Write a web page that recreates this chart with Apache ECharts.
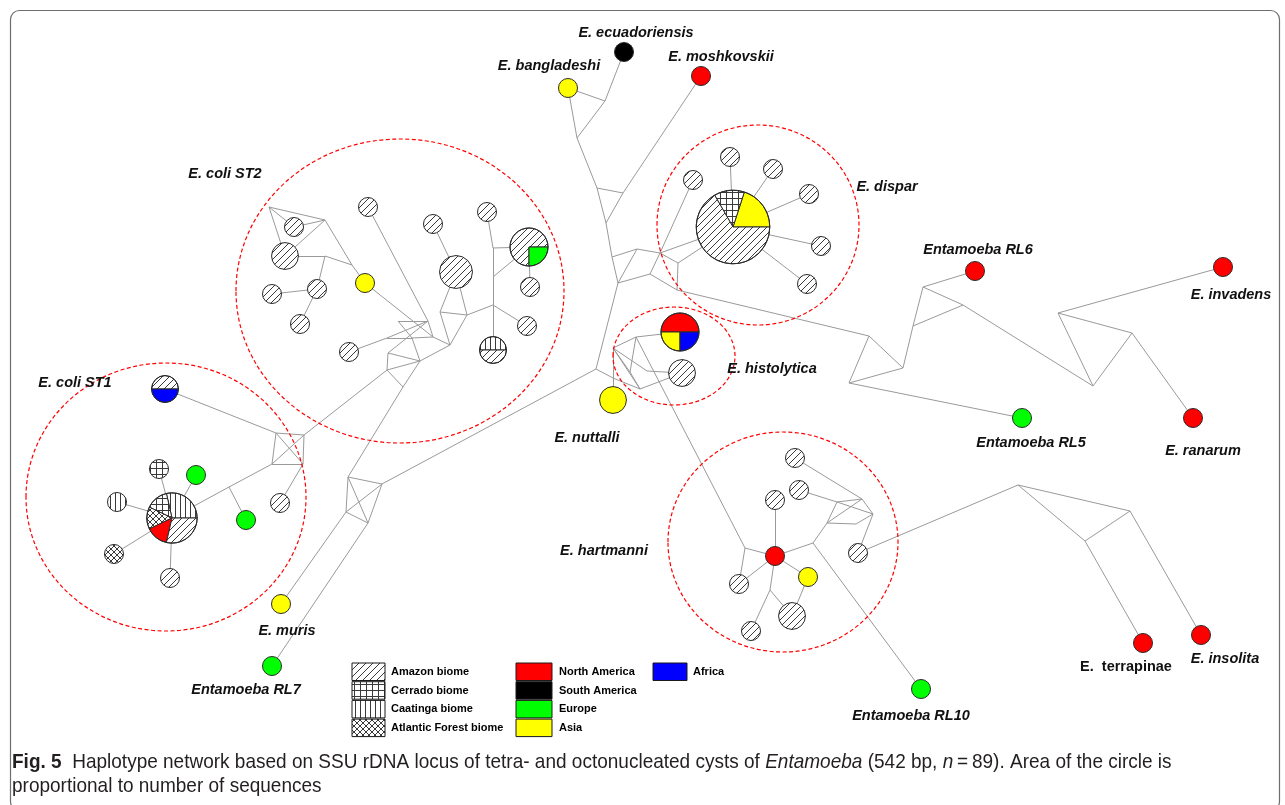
<!DOCTYPE html>
<html>
<head>
<meta charset="utf-8">
<script src="https://cdn.jsdelivr.net/npm/echarts@6/dist/echarts.min.js"></script>
<style>
html,body{margin:0;padding:0;background:#fff;}
#main{width:1285px;height:805px;}
</style>
</head>
<body>
<div id="main"></div>
<script>
// ---- Haplotype categories (biomes are hatched, continents are solid) ----
const biomeCategories = ['Amazon biome', 'Cerrado biome', 'Caatinga biome', 'Atlantic Forest biome'];
const regionCategories = ['North America', 'South America', 'Europe', 'Asia'];
const extraCategories = ['Africa'];

// ---- Haplotypes: id, x, y, sequences per category (drawn counter-clockwise from 3 o'clock) ----
const haplotypes = [
  // E. coli ST1
  ['st1a', 165, 389, [['Amazon biome', 1], ['Africa', 1]]],
  ['st1b', 172, 518, [['Caatinga biome', 2], ['Cerrado biome', 1], ['Atlantic Forest biome', 1], ['North America', 1], ['Amazon biome', 2]]],
  ['st1c', 159, 469, [['Cerrado biome', 1]]],
  ['st1d', 196, 475, [['Europe', 1]]],
  ['st1e', 117, 502, [['Caatinga biome', 1]]],
  ['st1f', 246, 520, [['Europe', 1]]],
  ['st1g', 114, 554, [['Atlantic Forest biome', 1]]],
  ['st1h', 170, 578, [['Amazon biome', 1]]],
  ['st1i', 280, 503, [['Amazon biome', 1]]],
  ['muris', 281, 604, [['Asia', 1]]],
  ['rl7', 272, 666, [['Europe', 1]]],
  // E. coli ST2
  ['st2a', 294, 227, [['Amazon biome', 1]]],
  ['st2b', 285, 256, [['Amazon biome', 2]]],
  ['st2c', 317, 289, [['Amazon biome', 1]]],
  ['st2d', 272, 294, [['Amazon biome', 1]]],
  ['st2e', 300, 324, [['Amazon biome', 1]]],
  ['st2f', 365, 283, [['Asia', 1]]],
  ['st2g', 368, 207, [['Amazon biome', 1]]],
  ['st2h', 349, 352, [['Amazon biome', 1]]],
  ['st2i', 433, 224, [['Amazon biome', 1]]],
  ['st2j', 456, 272, [['Amazon biome', 3]]],
  ['st2k', 487, 212, [['Amazon biome', 1]]],
  ['st2l', 529, 247, [['Amazon biome', 3], ['Europe', 1]]],
  ['st2m', 530, 287, [['Amazon biome', 1]]],
  ['st2n', 527, 326, [['Amazon biome', 1]]],
  ['st2o', 493, 350, [['Caatinga biome', 1], ['Amazon biome', 1]]],
  // E. dispar
  ['dis0', 733, 227, [['Asia', 3], ['Cerrado biome', 2], ['Amazon biome', 10]]],
  ['dis1', 693, 180, [['Amazon biome', 1]]],
  ['dis2', 730, 157, [['Amazon biome', 1]]],
  ['dis3', 773, 169, [['Amazon biome', 1]]],
  ['dis4', 809, 194, [['Amazon biome', 1]]],
  ['dis5', 821, 246, [['Amazon biome', 1]]],
  ['dis6', 807, 284, [['Amazon biome', 1]]],
  // reference species (top)
  ['ecu', 624, 52, [['South America', 1]]],
  ['bang', 568, 88, [['Asia', 1]]],
  ['mosh', 701, 76, [['North America', 1]]],
  // E. histolytica / E. nuttalli
  ['his0', 680, 332, [['North America', 2], ['Asia', 1], ['Africa', 1]]],
  ['his1', 682, 373, [['Amazon biome', 2]]],
  ['nut', 613, 400, [['Asia', 2]]],
  // E. hartmanni
  ['har0', 775, 556, [['North America', 1]]],
  ['har1', 795, 458, [['Amazon biome', 1]]],
  ['har2', 799, 490, [['Amazon biome', 1]]],
  ['har3', 775, 500, [['Amazon biome', 1]]],
  ['har4', 739, 584, [['Amazon biome', 1]]],
  ['har5', 808, 577, [['Asia', 1]]],
  ['har6', 792, 616, [['Amazon biome', 2]]],
  ['har7', 751, 631, [['Amazon biome', 1]]],
  ['har8', 858, 553, [['Amazon biome', 1]]],
  // other lineages
  ['rl6', 975, 271, [['North America', 1]]],
  ['inv', 1223, 267, [['North America', 1]]],
  ['rl5', 1022, 418, [['Europe', 1]]],
  ['ran', 1193, 418, [['North America', 1]]],
  ['terr', 1143, 643, [['North America', 1]]],
  ['ins', 1201, 635, [['North America', 1]]],
  ['rl10', 921, 689, [['Europe', 1]]]
];

// ---- Median vectors (unsampled intermediate haplotypes) ----
const medianVectors = [
  ['q1', 276, 433], ['q2', 304, 435], ['q3', 303, 464], ['q4', 272, 464], ['j1', 229, 487],
  ['s1', 387, 370], ['s2', 403, 387],
  ['r1', 348, 477], ['r2', 382, 484], ['r3', 368, 523], ['r4', 346, 512],
  ['ta', 269, 207], ['tb', 325, 220], ['tc', 325, 256], ['td', 352, 265],
  ['ua', 493, 248], ['ub', 493, 277], ['uc', 493, 305], ['ud', 467, 315], ['ue', 440, 312],
  ['h1', 398, 321], ['h2', 428, 321], ['h3', 433, 337], ['h4', 450, 345], ['h5', 420, 361],
  ['h6', 388, 353], ['h7', 387, 338], ['h8', 412, 338],
  ['je', 605, 101], ['jf', 577, 138], ['jg', 597, 188], ['jh', 623, 193], ['ji', 606, 223],
  ['jl', 612, 257], ['jm', 637, 249], ['jn', 660, 253], ['jo', 618, 283], ['jp', 650, 274],
  ['jq', 678, 263], ['jk', 677, 290],
  ['c0', 596, 369], ['f0', 613, 348], ['f1', 636, 337], ['f2', 647, 371], ['f3', 640, 389],
  ['f4', 630, 372], ['f5', 613, 378],
  ['p1', 869, 336], ['p2', 849, 383], ['p3', 903, 368], ['p4', 913, 326], ['p5', 923, 287],
  ['p6', 963, 305], ['p7', 1093, 386], ['p8', 1058, 313], ['p9', 1132, 333],
  ['ha', 745, 548], ['hb', 813, 543], ['hc', 770, 590],
  ['k1', 827, 523], ['k2', 837, 502], ['k3', 862, 499], ['k4', 873, 514], ['k5', 856, 524],
  ['n1', 1018, 485], ['n2', 1130, 511], ['n3', 1085, 541]
];

// ---- Mutational links between haplotypes / median vectors ----
const links = [
  // E. coli ST1
  ['st1a', 'q1'], ['q1', 'q2'], ['q2', 'q3'], ['q3', 'q4'], ['q4', 'q1'], ['q1', 'q3'], ['q2', 'q4'],
  ['q4', 'j1'], ['j1', 'st1b'], ['j1', 'st1f'], ['q3', 'st1i'], ['q2', 's1'],
  ['st1b', 'st1c'], ['st1b', 'st1d'], ['st1b', 'st1e'], ['st1b', 'st1g'], ['st1b', 'st1h'],
  ['s2', 'r1'], ['r1', 'r2'], ['r2', 'r3'], ['r3', 'r4'], ['r4', 'r1'], ['r1', 'r3'], ['r2', 'r4'],
  ['r4', 'muris'], ['r3', 'rl7'], ['r2', 'c0'],
  // E. coli ST2
  ['s1', 's2'], ['s1', 'h6'], ['h6', 'h5'], ['s2', 'h5'], ['s1', 'h5'],
  ['h1', 'h2'], ['h1', 'h8'], ['h8', 'h5'], ['h2', 'h6'], ['st2h', 'h7'], ['h7', 'h8'], ['h8', 'h3'],
  ['h3', 'h2'], ['st2g', 'h2'], ['st2f', 'h3'], ['h3', 'h4'], ['h4', 'h5'], ['h7', 'h2'],
  ['st2j', 'st2i'], ['st2j', 'ue'], ['st2j', 'ud'], ['ue', 'ud'], ['ue', 'h4'], ['ud', 'h4'],
  ['ud', 'uc'], ['uc', 'ub'], ['ub', 'ua'], ['ua', 'st2k'], ['ua', 'st2l'], ['ub', 'st2l'],
  ['uc', 'st2n'], ['uc', 'st2o'], ['st2l', 'st2m'],
  ['ta', 'tb'], ['ta', 'st2a'], ['ta', 'st2b'], ['tb', 'st2a'], ['tb', 'st2b'], ['tb', 'td'],
  ['td', 'st2f'], ['st2b', 'tc'], ['tc', 'td'], ['tc', 'st2c'], ['st2c', 'st2d'], ['st2c', 'st2e'],
  // trunk and E. dispar
  ['ecu', 'je'], ['bang', 'je'], ['je', 'jf'], ['bang', 'jf'], ['jf', 'jg'], ['jg', 'jh'],
  ['jh', 'mosh'], ['jg', 'ji'], ['jh', 'ji'], ['ji', 'jl'], ['jl', 'jm'], ['jl', 'jo'],
  ['jm', 'jn'], ['jm', 'jo'], ['jo', 'jp'], ['jp', 'jn'], ['jn', 'dis0'], ['jn', 'dis1'],
  ['jn', 'jq'], ['jq', 'dis0'], ['jp', 'jk'], ['jq', 'jk'], ['jk', 'p1'], ['c0', 'jo'],
  ['dis0', 'dis2'], ['dis0', 'dis3'], ['dis0', 'dis4'], ['dis0', 'dis5'], ['dis0', 'dis6'],
  // E. histolytica / E. nuttalli
  ['c0', 'f5'], ['f0', 'f5'], ['f0', 'f1'], ['f0', 'f2'], ['f0', 'f3'], ['f0', 'f4'],
  ['f1', 'his0'], ['f2', 'his1'], ['f3', 'his1'], ['f4', 'f3'], ['f5', 'f3'], ['f5', 'nut'],
  ['f1', 'f4'], ['f1', 'ha'],
  // reptile / amphibian lineages
  ['p1', 'p2'], ['p1', 'p3'], ['p2', 'p3'], ['p2', 'rl5'], ['p3', 'p4'], ['p4', 'p5'], ['p4', 'p6'],
  ['p5', 'p6'], ['p5', 'rl6'], ['p6', 'p7'], ['p7', 'p8'], ['p7', 'p9'], ['p8', 'p9'],
  ['p8', 'inv'], ['p9', 'ran'],
  // E. hartmanni
  ['ha', 'har0'], ['ha', 'har4'], ['har0', 'har3'], ['har0', 'har4'], ['har0', 'hb'], ['hb', 'k1'],
  ['har0', 'hc'], ['hc', 'har7'], ['hc', 'har6'], ['har0', 'har5'], ['har5', 'har6'], ['hb', 'rl10'],
  ['k1', 'k2'], ['k2', 'k3'], ['k3', 'k4'], ['k4', 'k5'], ['k5', 'k1'], ['k2', 'k4'], ['k1', 'k3'],
  ['har1', 'k3'], ['har2', 'k2'], ['k4', 'har8'], ['har8', 'n1'], ['n1', 'n2'], ['n1', 'n3'],
  ['n2', 'n3'], ['n3', 'terr'], ['n2', 'ins']
];

// ---- Species groups outlined by dashed ellipses: cx, cy, rx, ry ----
const clusterOutlines = [
  [166, 497, 140, 134],
  [400, 291, 164, 152],
  [758, 225, 101, 100],
  [674, 356, 61, 49],
  [783, 542, 115, 110]
];

// ---- Taxon labels: text, x, y, italic ----
const taxonLabels = [
  ['E. ecuadoriensis', 636, 33, true],
  ['E. bangladeshi', 549, 66, true],
  ['E. moshkovskii', 721, 57, true],
  ['E. coli ST2', 225, 174, true],
  ['E. dispar', 887, 187, true],
  ['Entamoeba RL6', 978, 250, true],
  ['E. invadens', 1231, 295, true],
  ['E. coli ST1', 75, 383, true],
  ['E. histolytica', 772, 369, true],
  ['E. nuttalli', 587, 438, true],
  ['Entamoeba RL5', 1031, 443, true],
  ['E. ranarum', 1203, 451, true],
  ['E. hartmanni', 604, 551, true],
  ['E. muris', 287, 631, true],
  ['Entamoeba RL7', 246, 690, true],
  ['E.  terrapinae', 1126, 667, false],
  ['E. insolita', 1225, 659, true],
  ['Entamoeba RL10', 911, 716, true]
];

// ---- Fill styles ----
function hatchPattern(size, draw) {
  const c = document.createElement('canvas');
  c.width = size; c.height = size;
  const ctx = c.getContext('2d');
  ctx.fillStyle = '#ffffff';
  ctx.fillRect(0, 0, size, size);
  ctx.strokeStyle = '#3a3a3a';
  ctx.lineWidth = 1;
  ctx.beginPath();
  draw(ctx, size);
  ctx.stroke();
  return { image: c, repeat: 'repeat' };
}
function diag(ctx, s) {
  ctx.moveTo(-1, s + 1); ctx.lineTo(s + 1, -1);
  ctx.moveTo(-1, 1); ctx.lineTo(1, -1);
  ctx.moveTo(s - 1, s + 1); ctx.lineTo(s + 1, s - 1);
}
function antiDiag(ctx, s) {
  ctx.moveTo(-1, -1); ctx.lineTo(s + 1, s + 1);
  ctx.moveTo(s - 1, -1); ctx.lineTo(s + 1, 1);
  ctx.moveTo(-1, s - 1); ctx.lineTo(1, s + 1);
}
const fills = {
  'Amazon biome': hatchPattern(7, diag),
  'Cerrado biome': hatchPattern(6, (ctx, s) => { ctx.moveTo(0.5, 0); ctx.lineTo(0.5, s); ctx.moveTo(0, 0.5); ctx.lineTo(s, 0.5); }),
  'Caatinga biome': hatchPattern(5, (ctx, s) => { ctx.moveTo(0.5, 0); ctx.lineTo(0.5, s); }),
  'Atlantic Forest biome': hatchPattern(6, (ctx, s) => { diag(ctx, s); antiDiag(ctx, s); }),
  'North America': '#ff0000',
  'South America': '#000000',
  'Europe': '#00ff00',
  'Asia': '#ffff00',
  'Africa': '#0000ff'
};

// radius of a one-sequence haplotype, in axis units; circle area grows with sequence count
const unitRadius = 9.5;

const position = {};
haplotypes.forEach(h => { position[h[0]] = [h[1], h[2]]; });
medianVectors.forEach(m => { position[m[0]] = [m[1], m[2]]; });

const chart = echarts.init(document.getElementById('main'), null, { renderer: 'canvas' });

function renderHaplotype(params, api) {
  const comp = haplotypes[params.dataIndex][3];
  const total = comp.reduce((s, c) => s + c[1], 0);
  const center = api.coord([api.value(0), api.value(1)]);
  const r = api.size([unitRadius * Math.sqrt(total), 0])[0];
  const children = [];
  if (comp.length === 1) {
    children.push({ type: 'circle', shape: { cx: center[0], cy: center[1], r: r },
      style: { fill: fills[comp[0][0]], stroke: '#2b2b2b', lineWidth: 1 } });
  } else {
    let a = 0;
    comp.forEach(c => {
      const sweep = c[1] / total * Math.PI * 2;
      children.push({ type: 'sector', shape: { cx: center[0], cy: center[1], r: r, r0: 0,
        startAngle: -a, endAngle: -(a + sweep), clockwise: false },
        style: { fill: fills[c[0]], stroke: '#2b2b2b', lineWidth: 1 } });
      a += sweep;
    });
    children.push({ type: 'circle', shape: { cx: center[0], cy: center[1], r: r },
      style: { fill: 'none', stroke: '#2b2b2b', lineWidth: 1 } });
  }
  return { type: 'group', children: children };
}

function renderOutline(params, api) {
  const c = api.coord([api.value(0), api.value(1)]);
  const rx = api.size([api.value(2), 0])[0];
  const ry = api.size([0, api.value(3)])[1];
  return { type: 'ellipse', shape: { cx: c[0], cy: c[1], rx: rx, ry: ry },
    style: { fill: 'none', stroke: '#ff0000', lineWidth: 1.2, lineDash: [4, 2.5] } };
}

function renderLabel(params, api) {
  const lab = taxonLabels[params.dataIndex];
  const p = api.coord([api.value(0), api.value(1)]);
  return { type: 'text', x: p[0], y: p[1],
    style: { text: lab[0], fill: '#111',
      font: (lab[3] ? 'italic ' : '') + 'bold 14.5px "Liberation Sans", Arial, sans-serif',
      align: 'center', verticalAlign: 'middle' } };
}

// ---- legend and caption graphics ----
const legendGraphics = [];
const legendColumns = [
  { items: biomeCategories, x: 352, w: 33, tx: 391 },
  { items: regionCategories, x: 516, w: 36, tx: 559 },
  { items: extraCategories, x: 653, w: 34, tx: 693 }
];
legendColumns.forEach(col => {
  col.items.forEach((name, i) => {
    const y = 663 + i * 18.7;
    legendGraphics.push({ type: 'rect', shape: { x: col.x, y: y, width: col.w, height: 17.5 },
      style: { fill: fills[name], stroke: '#1a1a1a', lineWidth: 1 } });
    legendGraphics.push({ type: 'text', x: col.tx, y: y + 9,
      style: { text: name, fill: '#000', font: 'bold 11px "Liberation Sans", Arial, sans-serif',
        verticalAlign: 'middle' } });
  });
});

const captionFont = '"Liberation Sans Narrow", "Liberation Sans", sans-serif';
const captionSize = 21;
const captionGraphics = [
  { type: 'text', x: 12, y: 762, scaleX: 0.905,
    style: { text: '{b|Fig. 5}  Haplotype network based on SSU rDNA locus of tetra- and octonucleated cysts of {i|Entamoeba} (542 bp, {i|n}\u2009=\u200989). Area of the circle is',
      fill: '#231f20', fontSize: captionSize, fontFamily: captionFont, verticalAlign: 'middle',
      rich: { b: { fontWeight: 'bold', fontSize: captionSize, fontFamily: captionFont, fill: '#231f20' },
              i: { fontStyle: 'italic', fontSize: captionSize, fontFamily: captionFont, fill: '#231f20' } } } },
  { type: 'text', x: 12, y: 786, scaleX: 0.905,
    style: { text: 'proportional to number of sequences', fill: '#231f20', fontSize: captionSize,
      fontFamily: captionFont, verticalAlign: 'middle' } }
];

const option = {
  animation: false,
  backgroundColor: '#ffffff',
  grid: { left: 0, right: 0, top: 0, bottom: 0 },
  xAxis: { type: 'value', min: 0, max: 1285, show: false },
  yAxis: { type: 'value', min: 0, max: 805, inverse: true, show: false },
  graphic: [
    { type: 'rect', shape: { x: 10.5, y: 10.5, width: 1269, height: 800, r: 9 },
      style: { fill: 'none', stroke: '#6e6e6e', lineWidth: 1.2 }, z: 0 }
  ].concat(legendGraphics, captionGraphics),
  series: [
    { type: 'lines', coordinateSystem: 'cartesian2d', silent: true, z: 2,
      lineStyle: { color: '#9a9a9a', width: 1, opacity: 1 },
      data: links.map(l => ({ coords: [position[l[0]], position[l[1]]] })) },
    { type: 'custom', coordinateSystem: 'cartesian2d', silent: true, z: 3,
      renderItem: renderOutline, data: clusterOutlines },
    { type: 'custom', coordinateSystem: 'cartesian2d', silent: true, z: 4,
      renderItem: renderHaplotype, data: haplotypes.map(h => [h[1], h[2]]) },
    { type: 'custom', coordinateSystem: 'cartesian2d', silent: true, z: 5,
      renderItem: renderLabel, data: taxonLabels.map(t => [t[1], t[2]]) }
  ]
};
chart.setOption(option);
</script>
</body>
</html>
